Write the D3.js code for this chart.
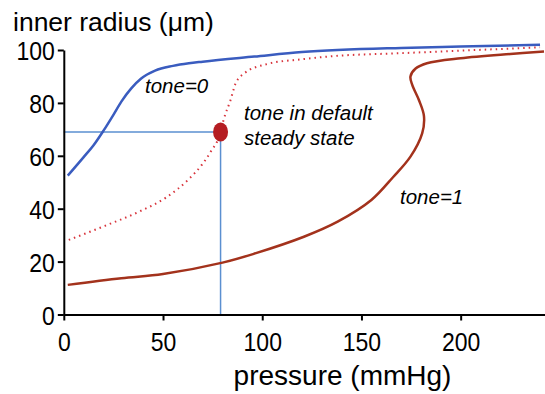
<!DOCTYPE html>
<html>
<head>
<meta charset="utf-8">
<script src="https://cdn.jsdelivr.net/npm/d3@7"></script>
<style>
  body { margin: 0; background: #fff; }
  text { font-family: "Liberation Sans", Arial, sans-serif; }
</style>
</head>
<body>
<div id="chart"></div>
<script>
// curve data: pressure (mmHg) and inner radius (um)
const tone0Pressure = [2, 10, 15, 20, 25, 29, 34, 39, 46, 55, 63, 70, 96, 120, 170, 200, 240];
const tone0Radius = [52.5, 59.5, 64, 69.5, 75.5, 80.5, 85.5, 89.2, 92.2, 94, 95, 95.6, 97.5, 99.2, 100.8, 101.3, 102];

const defaultPressure = [2.5, 21, 38, 51.5, 63, 70, 74, 79, 80.5, 84, 86.5, 91, 102.5, 120, 136, 170, 240];
const defaultRadius = [28.2, 33.6, 38.9, 44.2, 51.2, 57, 61.5, 68.9, 73.5, 81, 87.2, 91.2, 94.7, 96.5, 97.7, 98.8, 101];

const tone1Pressure = [2, 29, 50, 80, 96, 121, 138, 155, 166, 174.7, 180.6, 181.5, 179, 175.6, 174.7, 177.3, 183, 200, 225, 242];
const tone1Radius = [11.2, 13.7, 15.3, 19.6, 23, 29.4, 35.1, 43.3, 52, 59.7, 68.5, 75, 81, 86.8, 90, 93, 95, 96.9, 98.5, 99.4];

const steadyState = { pressure: 79, radius: 69 };

const xTicks = [0, 50, 100, 150, 200];
const yTicks = [0, 20, 40, 60, 80, 100];

const width = 545, height = 394;

var svg = d3.select("#chart")
  .append("svg")
  .attr("width", width)
  .attr("height", height);

const x = d3.scaleLinear().domain([0, 242.5]).range([63.8, 545]);
const y = d3.scaleLinear().domain([0, 100]).range([314.5, 50]);

const zip = (ps, rs) => ps.map((p, i) => ({ p: p, r: rs[i] }));

// blue and dotted red are functions of pressure, tone=1 folds back (S shape)
const lineMono = d3.line()
  .x(d => x(d.p))
  .y(d => y(d.r))
  .curve(d3.curveMonotoneX);

const lineFold = d3.line()
  .x(d => x(d.p))
  .y(d => y(d.r))
  .curve(d3.curveCatmullRom.alpha(0.5));

// reference lines to the steady state point
svg.append("line")
  .attr("x1", x(0)).attr("x2", x(steadyState.pressure))
  .attr("y1", y(steadyState.radius)).attr("y2", y(steadyState.radius))
  .attr("stroke", "#5a8fd0").attr("stroke-width", 1.5);
svg.append("line")
  .attr("x1", x(steadyState.pressure)).attr("x2", x(steadyState.pressure))
  .attr("y1", y(0)).attr("y2", y(steadyState.radius))
  .attr("stroke", "#5a8fd0").attr("stroke-width", 1.5);

// curves
svg.append("path")
  .datum(zip(defaultPressure, defaultRadius))
  .attr("d", lineMono)
  .attr("fill", "none")
  .attr("stroke", "#d8343c")
  .attr("stroke-width", 2)
  .attr("stroke-dasharray", "1.5,4");

svg.append("path")
  .datum(zip(tone0Pressure, tone0Radius))
  .attr("d", lineMono)
  .attr("fill", "none")
  .attr("stroke", "#3a5cbf")
  .attr("stroke-width", 2.5);

svg.append("path")
  .datum(zip(tone1Pressure, tone1Radius))
  .attr("d", lineFold)
  .attr("fill", "none")
  .attr("stroke", "#a3321c")
  .attr("stroke-width", 2.5);

svg.append("ellipse")
  .attr("cx", x(steadyState.pressure))
  .attr("cy", y(steadyState.radius))
  .attr("rx", 7.5).attr("ry", 9.5)
  .attr("fill", "#b51d22");

// axes
var xaxis = svg.append("g")
  .attr("transform", `translate(0, ${y(0)})`)
  .call(d3.axisBottom(x).tickValues(xTicks).tickSize(6).tickSizeOuter(0));

var yaxis = svg.append("g")
  .attr("transform", `translate(${x(0)}, 0)`)
  .call(d3.axisLeft(y).tickValues(yTicks).tickSize(6).tickSizeOuter(0));

[xaxis, yaxis].forEach(a => {
  a.select(".domain").attr("stroke", "#000").attr("stroke-width", 2);
  a.selectAll(".tick line").attr("stroke", "#000").attr("stroke-width", 2);
  a.selectAll(".tick text")
    .attr("fill", "#000")
    .attr("x", null).attr("y", null).attr("dy", null)
    .style("font-size", "23px")
    .style("font-family", "Liberation Sans, Arial, sans-serif");
});
// tick labels in the picture are a bit taller than they are wide
xaxis.selectAll(".tick text").attr("transform", "translate(0, 36) scale(1, 1.15)");
yaxis.selectAll(".tick text").attr("transform", "translate(-9, 9.5) scale(1, 1.15)");

// axis titles
svg.append("text")
  .attr("x", 13).attr("y", 31)
  .style("font-size", "26.5px")
  .text("inner radius (μm)");

svg.append("text")
  .attr("x", 342.5).attr("y", 385)
  .attr("text-anchor", "middle")
  .style("font-size", "28px")
  .text("pressure (mmHg)");

// annotations
const note = (tx, ty, s) => svg.append("text")
  .attr("x", tx).attr("y", ty)
  .style("font-size", "20.5px")
  .style("font-style", "italic")
  .text(s);

note(145, 93, "tone=0");
note(244, 120, "tone in default");
note(244, 145, "steady state");
note(400, 204, "tone=1");
</script>
</body>
</html>
